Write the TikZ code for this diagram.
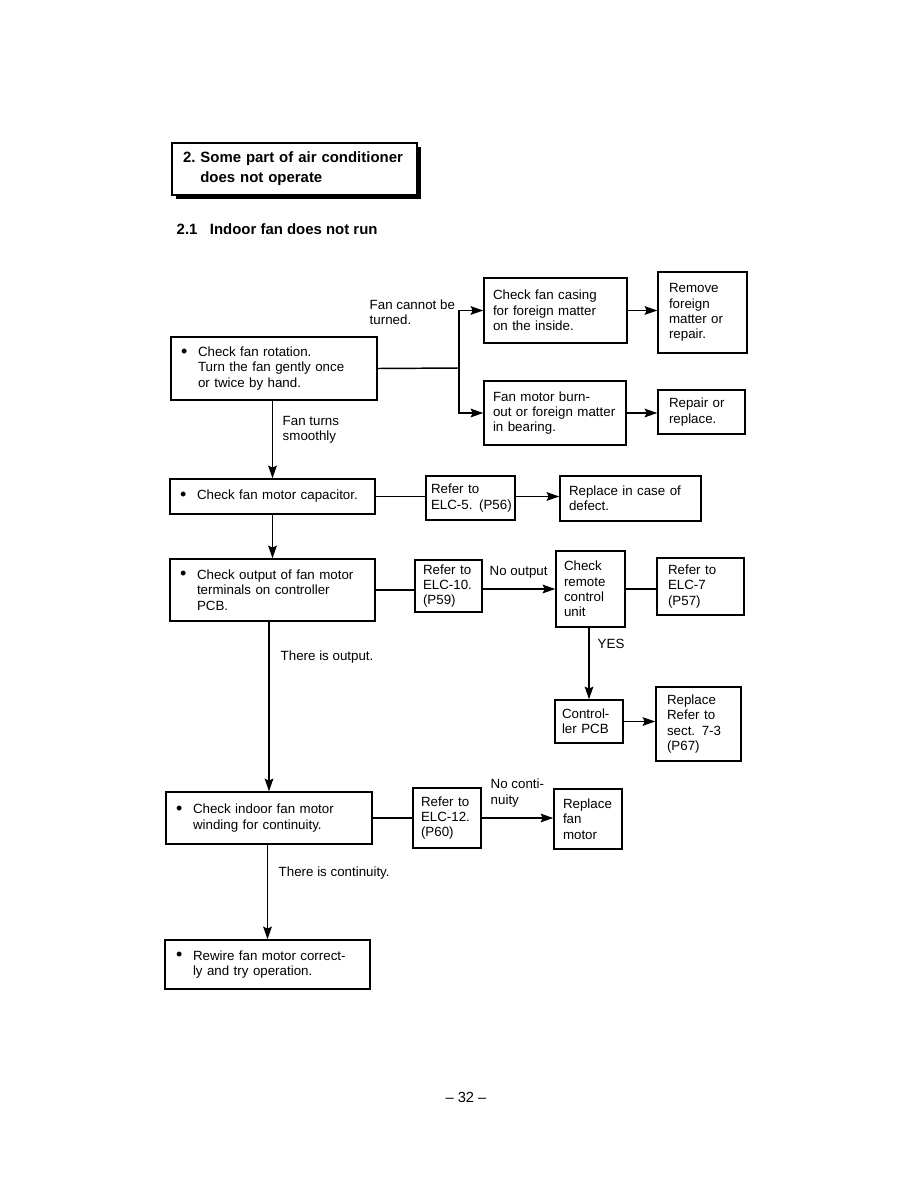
\documentclass[tikz,border=0pt]{standalone}
\usepackage{fontspec}
\setmainfont{Liberation Sans}
\usetikzlibrary{arrows.meta}
\newcommand{\fs}{\fontsize{10}{11.5}\selectfont}
\newcommand{\hfs}{\fontsize{11.2}{15}\selectfont\bfseries}
\newcommand{\bul}{\makebox[12.75pt][l]{\raisebox{-0.3pt}{\scalebox{1.35}{\textbullet}}}}
\newcommand{\ind}{\hspace*{12.75pt}}
\begin{document}
\begin{tikzpicture}[x=0.75pt,y=-0.75pt,
  line width=1.1pt,
  bx/.style n args={3}{draw, line width=1.1pt, minimum height={#2*0.75pt},
    text width={(#1-2*#3)*0.75pt}, inner xsep={#3*0.75pt}, inner ysep=0pt,
    align=left, font=\fs},
  lbl/.style={anchor=west, inner sep=0pt, align=left, font=\fs},
  arr/.style={-{Stealth[length=9.5pt,width=6.5pt,inset=1.5pt]}},
]
\useasboundingbox (0,0) rectangle (918,1188);

% header
\fill (176,147) rectangle (421,199);
\node[draw, fill=white, line width=0.9pt, minimum height=39pt,
  text width={(245-22)*0.75pt}, inner xsep=8.25pt, inner ysep=0pt, align=left, font=\hfs]
  (hdr) at (294.5,169) {2.\ Some part of air conditioner\\\hspace*{13pt}does not operate};
\node[anchor=west, inner sep=0pt, font=\hfs] (sub) at (176,229) {2.1\ \ \ Indoor fan does not run};

% boxes
\node[bx={206}{63}{10}] (A) at (274,368.5) {\bul Check fan rotation.\\\ind Turn the fan gently once\\\ind or twice by hand.};
\node[bx={143}{65}{9}] (B1) at (555.5,310.5) {Check fan casing\\for foreign matter\\on the inside.};
\node[bx={89}{81}{11}] (C1) at (702.5,312.5) {Remove\\foreign\\matter or\\repair.};
\node[bx={142}{64}{9}] (B2) at (555,413) {Fan motor burn-\\out or foreign matter\\in bearing.};
\node[bx={87}{44}{11}] (C2) at (701.5,412) {Repair or\\replace.};
\node[bx={205}{35}{10}] (D) at (272.5,496.5) {\bul Check fan motor capacitor.};
\node[bx={89}{44}{5}] (E) at (470.5,498) {Refer to\\\mbox{ELC-5. (P56)}};
\node[bx={141}{45}{9}] (F) at (630.5,498.5) {Replace in case of\\defect.};
\node[bx={205}{62}{10}] (G) at (272.5,590) {\bul Check output of fan motor\\\ind terminals on controller\\\ind PCB.};
\node[bx={67}{52}{8}] (H) at (448.5,586) {Refer to\\ELC-10.\\(P59)};
\node[bx={69}{76}{8}] (I) at (590.5,589) {Check\\remote\\control\\unit};
\node[bx={87}{57}{11}] (J) at (700.5,586.5) {Refer to\\ELC-7\\(P57)};
\node[bx={68}{43}{7}] (K) at (589,721.5) {Control-\\ler PCB};
\node[bx={85}{74}{11}] (L) at (698.5,724) {Replace\\Refer to\\sect. 7-3\\(P67)};
\node[bx={206}{52}{10}] (M) at (269,818) {\bul Check indoor fan motor\\\ind winding for continuity.};
\node[bx={68}{60}{8}] (N) at (447,818) {Refer to\\ELC-12.\\(P60)};
\node[bx={68}{60}{9}] (O) at (588,819) {Replace\\fan\\motor};
\node[bx={205}{49}{11}] (P) at (267.5,964.5) {\bul Rewire fan motor correct-\\\ind ly and try operation.};

% labels
\node[lbl] (l1) at (369,312.5) {Fan cannot be\\turned.};
\node[lbl] (l2) at (282,429.5) {Fan turns\\smoothly};
\node[lbl] (l3) at (489,572) {No output};
\node[lbl] (l4) at (597,644) {YES};
\node[lbl] (l5) at (280,657) {There is output.};
\node[lbl] (l6) at (490,793) {No conti-\\nuity};
\node[lbl] (l7) at (278,873) {There is continuity.};
\node[font=\fontsize{11}{13}\selectfont, inner sep=0pt] (pg) at (466,1097) {-- 32 --};

% connectors
\coordinate (sp) at (459,368);
\draw (A.east) -- (sp);
\draw[arr] (sp) |- (B1.west);
\draw[arr] (sp) |- (B2.west);
\draw[arr] (B1.east) -- (C1.west |- B1.east);
\draw[arr] (B2.east) -- (C2.west |- B2.east);
\draw[arr] (A.south -| D.north) -- (D.north);
\draw (D.east) -- (E.west |- D.east);
\draw[arr] (E.east |- D.east) -- (F.west |- D.east);
\draw[arr] (D.south) -- (G.north);
\draw (G.east) -- (H.west |- G.east);
\draw[arr] (H.east |- I.west) -- (I.west);
\draw (I.east) -- (J.west |- I.east);
\draw[arr] (I.south -| K.north) -- (K.north);
\draw[arr] (K.east) -- (L.west |- K.east);
\draw[arr] (G.south -| M.north) -- (M.north);
\draw (M.east) -- (N.west |- M.east);
\draw[arr] (N.east |- M.east) -- (O.west |- M.east);
\draw[arr] (M.south -| P.north) -- (P.north);
\end{tikzpicture}
\end{document}
